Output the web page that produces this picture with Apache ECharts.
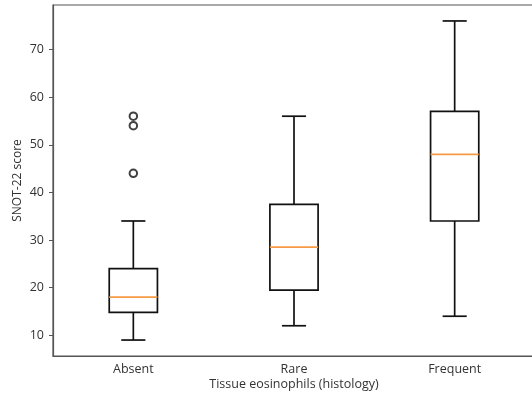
<!DOCTYPE html>
<html>
<head>
<meta charset="utf-8">
<script src="https://cdn.jsdelivr.net/npm/echarts@6/dist/echarts.min.js"></script>
<style>
  html, body { margin: 0; padding: 0; background: #fff; }
  #chart { width: 532px; height: 394px; }
</style>
</head>
<body>
<div id="chart"></div>
<script>
// eosinophil groups and their box summary
var categories = ['Absent', 'Rare', 'Frequent'];
var whiskerLow = [9, 12, 14];
var q1 = [14.8, 19.5, 34];
var median = [18, 28.5, 48];
var q3 = [24, 37.5, 57];
var whiskerHigh = [34, 56, 76];
var outliers = [[0, 44], [0, 54], [0, 56]];
var yTicks = [10, 20, 30, 40, 50, 60, 70];

var boxData = [];
for (var i = 0; i < categories.length; i++) {
    boxData.push([i, whiskerLow[i], q1[i], median[i], q3[i], whiskerHigh[i]]);
}

function renderBox(params, api) {
    var idx = api.value(0);
    var band = api.size([1, 0])[0];
    var halfBox = band * 0.15, halfCap = band * 0.075;
    var pLow = api.coord([idx, api.value(1)]),
        pQ1 = api.coord([idx, api.value(2)]),
        pMed = api.coord([idx, api.value(3)]),
        pQ3 = api.coord([idx, api.value(4)]),
        pHigh = api.coord([idx, api.value(5)]);
    var x = pLow[0];
    var line = { stroke: '#111', lineWidth: 1.7, fill: null };
    return {
        type: 'group',
        children: [
            { type: 'line', shape: { x1: x, y1: pLow[1], x2: x, y2: pQ1[1] }, style: line },
            { type: 'line', shape: { x1: x, y1: pQ3[1], x2: x, y2: pHigh[1] }, style: line },
            { type: 'line', shape: { x1: x - halfCap, y1: pLow[1], x2: x + halfCap, y2: pLow[1] }, style: line },
            { type: 'line', shape: { x1: x - halfCap, y1: pHigh[1], x2: x + halfCap, y2: pHigh[1] }, style: line },
            { type: 'rect', shape: { x: x - halfBox, y: pQ3[1], width: halfBox * 2, height: pQ1[1] - pQ3[1] },
              style: { stroke: '#111', lineWidth: 1.7, fill: 'none' } },
            { type: 'line', shape: { x1: x - halfBox, y1: pMed[1], x2: x + halfBox, y2: pMed[1] },
              style: { stroke: '#f79a45', lineWidth: 1.7 } }
        ]
    };
}

var fontFamily = 'Open Sans';
var option = {
    animation: false,
    grid: {
        left: 53,
        top: 5,
        width: 482,
        height: 351,
        outerBoundsMode: 'none',
        show: true,
        borderColor: '#555',
        borderWidth: 1.2,
        backgroundColor: 'transparent'
    },
    xAxis: {
        type: 'category',
        data: categories,
        boundaryGap: true,
        name: 'Tissue eosinophils (histology)',
        nameLocation: 'middle',
        nameGap: 22,
        nameMoveOverlap: false,
        nameTextStyle: { color: '#333', fontSize: 12.5, fontFamily: fontFamily },
        axisLine: { lineStyle: { color: '#555', width: 1.2 } },
        axisTick: { alignWithLabel: true, length: 4, lineStyle: { color: '#555' } },
        axisLabel: { color: '#333', fontSize: 12.5, fontFamily: fontFamily, margin: 7 },
        splitLine: { show: false }
    },
    yAxis: {
        type: 'value',
        min: 5.65,
        max: 79.35,
        name: 'SNOT-22 score',
        nameLocation: 'middle',
        nameGap: 29,
        nameMoveOverlap: false,
        nameTextStyle: { color: '#333', fontSize: 12, fontFamily: fontFamily },
        axisLine: { show: true, lineStyle: { color: '#555', width: 1.2 } },
        axisTick: { show: true, length: 4, customValues: yTicks, lineStyle: { color: '#555' } },
        axisLabel: { color: '#333', fontSize: 12.5, fontFamily: fontFamily, margin: 9, customValues: yTicks },
        splitLine: { show: false }
    },
    series: [{
        type: 'custom',
        renderItem: renderBox,
        encode: { x: 0, y: [1, 2, 3, 4, 5] },
        data: boxData
    }, {
        type: 'scatter',
        symbol: 'emptyCircle',
        symbolSize: 7.5,
        itemStyle: { color: '#111', borderColor: '#111', borderWidth: 1.4 },
        data: outliers
    }]
};

echarts.init(document.getElementById('chart')).setOption(option);
</script>
</body>
</html>
